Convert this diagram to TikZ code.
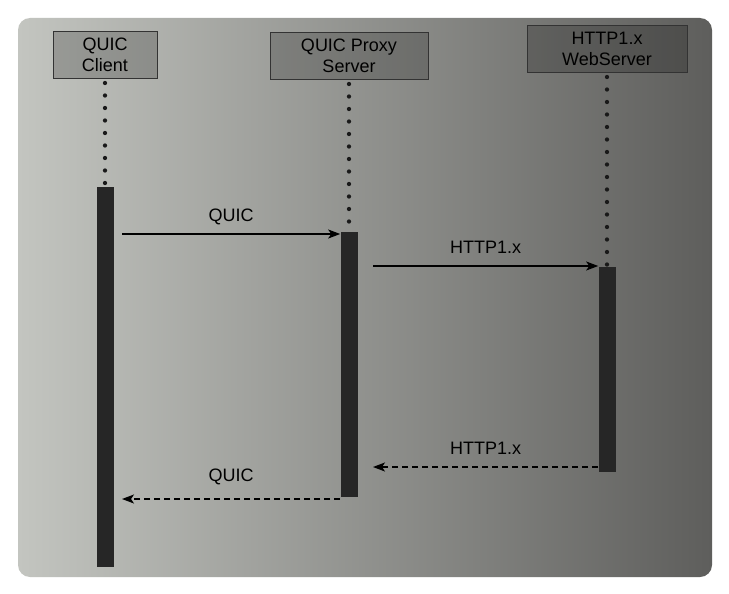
\documentclass[tikz,border=0pt]{standalone}
\usepackage{fontspec}
\setmainfont{Liberation Sans}
\usetikzlibrary{arrows,arrows.meta,positioning}
\definecolor{photoleft}{HTML}{C3C5C0}
\definecolor{photoright}{HTML}{5E5E5C}
\definecolor{barcol}{HTML}{262626}

\begin{document}
\begin{tikzpicture}[->,>={Stealth[length=12pt,width=9pt,inset=3pt]},x=1pt,y=-1pt,semithick,
                    font=\fontsize{18}{21}\selectfont]
		  \tikzstyle{actor}=[draw=black!80,fill=black,fill opacity=0.2,text opacity=1,
		                     line width=1pt,align=center,minimum height=47pt,inner sep=2pt]
		  \tikzstyle{bar}=[draw=none,fill=barcol,minimum width=17pt,inner sep=0pt]
		  \tikzstyle{lifeline}=[-,draw=black!90,line width=4.3pt,line cap=round,
		                        dash pattern=on 0pt off 12.5pt,shorten <=4pt]
		  \tikzstyle{msg}=[line width=1.3pt]
		  \tikzstyle{reply}=[msg,dash pattern=on 6pt off 4pt]

		  \useasboundingbox (0,0) rectangle (729,594);
		  \fill[white] (0,0) rectangle (729,594);
		  \shade[rounded corners=12pt,left color=photoleft,right color=photoright,draw=none]
		        (18,18) rectangle (712,577);

		  % participants
		  \node[actor,minimum width=104pt] (client) at (105,55) {QUIC\\Client};
		  \node[actor,minimum width=158pt] (proxy)  at (349,56) {QUIC Proxy\\Server};
		  \node[actor,minimum width=160pt] (web)    at (607,49) {HTTP1.x\\WebServer};

		  % activation bars
		  \node[bar,minimum height=380pt] (clientbar) at (105,377)   {};
		  \node[bar,minimum height=265pt] (proxybar)  at (349,364.5) {};
		  \node[bar,minimum height=205pt] (webbar)    at (607,369.5) {};

		  \draw[lifeline] (client) -- (clientbar);
		  \draw[lifeline] (proxy) -- (proxybar);
		  \draw[lifeline] (web) -- (webbar);

		  % messages
		  \coordinate (quicreq)  at (122,234);
		  \coordinate (httpreq)  at (373,266);
		  \coordinate (httpresp) at (webbar.west |- 0,467);
		  \coordinate (quicresp) at (proxybar.west |- 0,499);

		  \draw[msg] (quicreq) -- (quicreq -| proxybar.west)
		        node[midway,above=5pt] {QUIC};
		  \draw[msg] (httpreq) -- (httpreq -| webbar.west)
		        node[midway,above=9pt] {HTTP1.x};
		  \draw[reply] (httpresp) -- (httpresp -| httpreq)
		        node[midway,above=9pt] {HTTP1.x};
		  \draw[reply] (quicresp) -- (quicresp -| quicreq)
		        node[midway,above=10pt] {QUIC};
		\end{tikzpicture}
\end{document}
